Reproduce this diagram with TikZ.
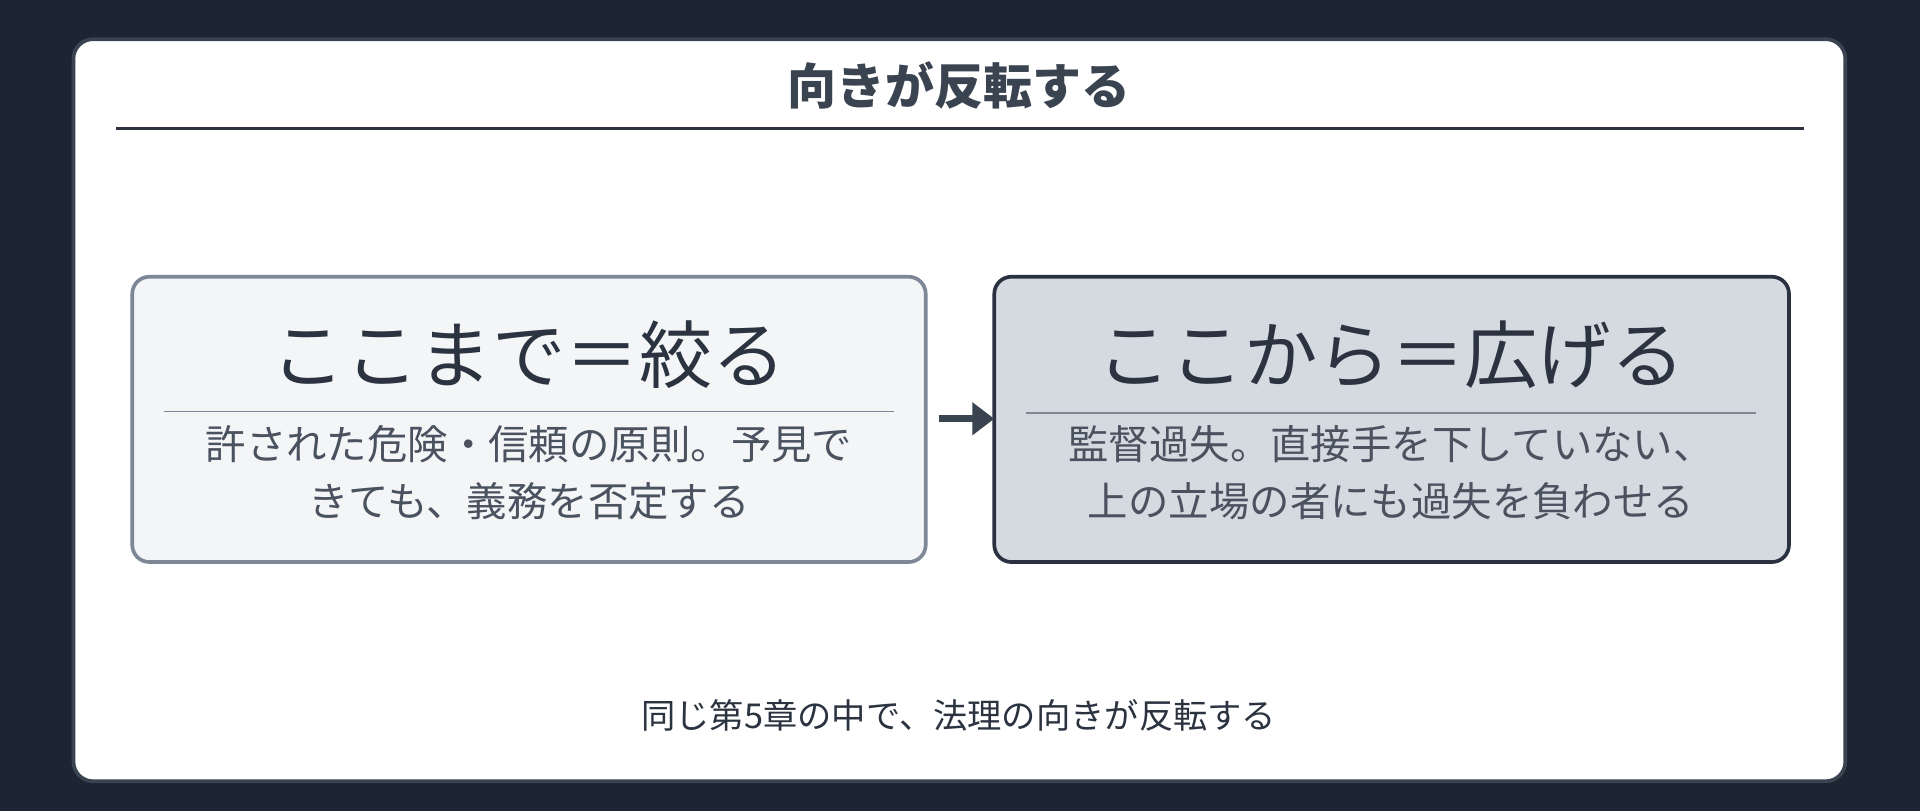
\documentclass[tikz,border=0pt]{standalone}
\usepackage{fontspec}
\setmainfont{Noto Sans CJK JP}
\usetikzlibrary{arrows.meta}
\definecolor{bgdark}{HTML}{1E2532}
\definecolor{panelline}{HTML}{3A4350}
\definecolor{inkdark}{HTML}{2B3340}
\definecolor{leftfill}{HTML}{F3F5F7}
\definecolor{leftline}{HTML}{7D8796}
\definecolor{rightfill}{HTML}{D5DAE1}
\definecolor{rightline}{HTML}{2A3140}
\definecolor{subink}{HTML}{4A5260}
\begin{document}
\begin{tikzpicture}[x=0.5pt,y=-0.5pt]
    \tikzstyle{card} = [draw, line width=1.5pt, rounded corners=7pt, inner sep=0pt]
    \tikzstyle{headline} = [font=\fontsize{30}{34}\selectfont, text=inkdark]
    \tikzstyle{subline} = [font=\fontsize{16.5}{23}\selectfont, text=subink, align=center]

    % Background and panel
    \fill[bgdark] (0,0) rectangle (1568,662);
    \useasboundingbox (0,0) rectangle (1568,662);
    \draw[panelline, fill=white, line width=1.5pt, rounded corners=8pt] (60,32) rectangle (1507,638);

    % Title
    \node[font=\bfseries\fontsize{20}{24}\selectfont, text=panelline] (title) at (783,70) {向きが反転する};
    \draw[inkdark, line width=0.9pt] (95,105) -- (1473,105);

    % Cards
    \draw[card, leftline, fill=leftfill] (108,226) rectangle (756,459);
    \draw[card, rightline, fill=rightfill] (812,226) rectangle (1461,459);
    \coordinate (lcard) at (756,342);
    \coordinate (rcard) at (812,342);

    \node[headline] (lhead) at (432,290) {ここまで＝絞る};
    \draw[leftline, line width=0.7pt] (134,336) -- (730,336);
    \node[subline] (lsub) at (432,386) {許された危険・信頼の原則。予見で\\きても、義務を否定する};

    \node[headline] (rhead) at (1136,290) {ここから＝広げる};
    \draw[leftline, line width=0.7pt] (838,337) -- (1434,337);
    \node[subline] (rsub) at (1136,386) {監督過失。直接手を下していない、\\上の立場の者にも過失を負わせる};

    % Arrow
    \draw[-{Triangle[length=9pt,width=13pt]}, line width=3pt, panelline, shorten <=5.5pt] (lcard) -- (rcard);

    % Footer
    \node[font=\fontsize{14}{17}\selectfont, text=inkdark] (foot) at (783,584) {同じ第5章の中で、法理の向きが反転する};
\end{tikzpicture}
\end{document}
